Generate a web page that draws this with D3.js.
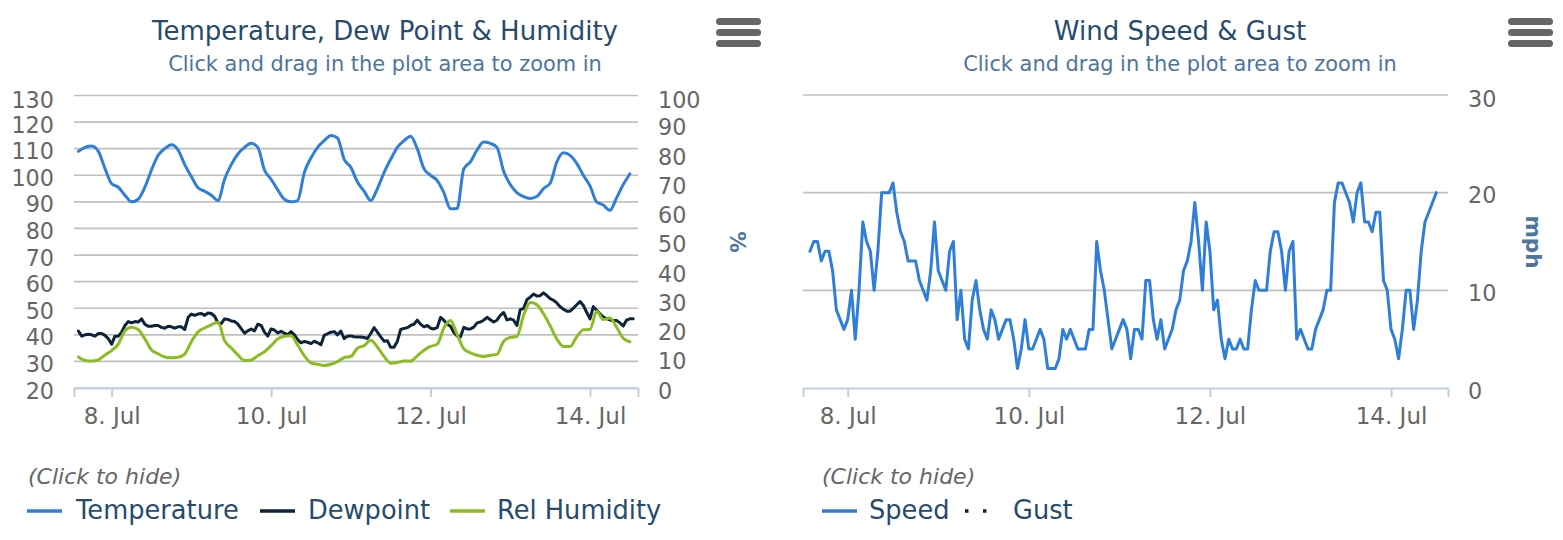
<!DOCTYPE html>
<html><head><meta charset="utf-8">
<script src="https://cdn.jsdelivr.net/npm/d3@7"></script>
<style>
html,body{margin:0;padding:0;background:#fff}
svg{display:block}
text{font-family:"DejaVu Sans",Verdana,sans-serif}
</style>
</head><body>
<svg id="chart" width="1563" height="540"></svg>
<script>
// ---------- DATA ----------
// first sample: 7 Jul 14:00; temperature & humidity every 2 h, dewpoint & wind every 1 h
const seriesStart = "2015-07-07T14:00:00Z";
const temperature = [109,110.5,111,109,102.5,96.8,95.5,92.5,90,91,95.5,102,107.5,110,111.5,109.5,104,99.5,95.3,94,92.5,90.5,98.5,104,108,110.5,112,110.5,102,98.5,94.5,91,90,90.5,101,106.5,110.5,113,115,114,106,103,97.5,94,90.5,95,101,106,110.5,113,114.7,110,102.5,100,98,93.5,87.4,87.5,102.4,105,109.5,112.5,112,110.5,101.5,96.5,93.5,92,91.3,92,95,97,105,108.5,107.5,104.5,100,96,90,88.8,86.8,91.5,96.5,100.5];
const dewpoint = [41.4,39.5,40,40.2,40,39.5,40.5,40.5,39.8,38.5,36.5,39.5,39.5,41,43.5,45,44.5,45,44.8,46,44,43.2,43.2,43.5,43.5,42.8,42.5,43.2,43,42.5,43,43,42,46.5,47.8,47.3,47.8,48,47.3,48.2,48,47,44.5,44.2,46,45.8,45.2,45,44,42.3,40.6,41.5,42.2,41.5,44,43.5,41,39.5,42.2,41.8,40.7,41.3,40.6,40,41.2,40,38.2,37,37.5,37.2,36.7,37.6,37,36.3,39.8,40.4,41,41.2,40,41.4,38.6,39.5,39.6,39.3,39.2,39.2,39,38.6,40.5,42.7,41,39.2,37.6,37.8,35.3,35.3,37.5,42,42.4,42.7,43.5,44,45.5,44,43,43.5,42.5,42.2,42.7,46.5,45.5,44,43.2,41,39.6,39.2,42.8,42.2,42.2,42.9,44.5,44.8,45.5,46.6,45.7,44.8,45.5,47.3,48.4,45.6,46,45.5,43.5,49.5,49.9,53.2,54.2,55.3,54.6,54.7,55.8,54.8,53.6,53,52,50.6,49.6,48.9,48.9,50,51.3,52.5,51,48.5,46,50.6,49.2,47.9,46.7,46.1,45.6,45.4,45.4,44.5,43.3,45.5,46,46];
const humidity = [10.6,9.4,9.2,9.6,11.3,12.8,15,19.6,20.8,20,16.8,13,11.7,10.6,10.3,10.5,11.6,15.8,19.2,20.5,21.6,22.5,16.2,13.7,11.3,9.4,9.6,11,12.4,14.5,16.8,17.7,17.9,14.7,11,8.6,8.1,7.7,8.1,9,10.4,10.8,13.6,14.5,16.3,14,10.8,8.5,8.7,9.2,9.2,11,12.9,14.2,15,20.5,23.1,18.3,13.4,12,11.2,10.8,11.2,11.5,16,17.3,17.6,24.8,29.2,28.5,25.4,21.3,16.8,14.2,14.2,17.5,19.9,20,26.2,23.4,23.9,20.8,17,15.8];
const windSpeed = [14,15,15,13,14,14,12,8,7,6,7,10,5,10,17,15,14,10,14,20,20,20,21,18,16,15,13,13,13,11,10,9,12,17,12,11,10,14,15,7,10,5,4,9,11,8,6,5,8,7,5,6,7,7,5,2,4,7,4,4,5,6,5,2,2,2,3,6,5,6,5,4,4,4,6,6,15,12,10,7,4,5,6,7,6,3,6,6,5,11,11,7,5,7,4,5,6,8,9,12,13,15,19,15,10,17,14,8,9,5,3,5,4,4,5,4,4,8,11,10,10,10,14,16,16,14,10,14,15,5,6,5,4,4,6,7,8,10,10,19,21,21,20,19,17,20,21,17,17,16,18,18,11,10,6,5,3,6,10,10,6,9,14,17,18,19,20];

const tempTicks = [20,30,40,50,60,70,80,90,100,110,120,130];
const humidityTicks = [0,10,20,30,40,50,60,70,80,90,100];
const windTicks = [0,10,20,30];
const dateTicks = ["2015-07-08","2015-07-10","2015-07-12","2015-07-14"];
const leftDomain = ["2015-07-07T12:40:00Z","2015-07-14T14:27:00Z"];
const rightDomain = ["2015-07-07T12:09:00Z","2015-07-14T15:06:00Z"];

const leftTitle = "Temperature, Dew Point & Humidity";
const rightTitle = "Wind Speed & Gust";
const subtitle = "Click and drag in the plot area to zoom in";
const leftLegend = ["Temperature","Dewpoint","Rel Humidity"];
const rightLegend = ["Speed","Gust"];

// ---------- STYLE ----------
const C = {temp:"#2f7ed8", dew:"#0d233a", hum:"#8bbc21", speed:"#2f7ed8", gust:"#0d233a",
  title:"#274b6d", sub:"#4d759e", label:"#666666", grid:"#c0c0c0", axis:"#c0d0e0", menu:"#666666"};

const svg = d3.select("#chart");
svg.append("rect").attr("width",1563).attr("height",540).attr("fill","#fff");

const t0 = new Date(seriesStart).getTime();
const H = 3600e3;
const toPts = (arr, stepH) => arr.map((v,i)=>({t:new Date(t0+i*stepH*H), v}));
const fmt = d3.utcFormat("%-d. %b");
const dTicks = dateTicks.map(d=>new Date(d+"T00:00:00Z"));

function menu(x){
  const g = svg.append("g");
  [0,11,22].forEach(dy=>g.append("rect").attr("x",x).attr("y",18+dy).attr("width",45).attr("height",7)
    .attr("rx",3.5).attr("fill",C.menu));
}
function titles(cx, title){
  svg.append("text").attr("x",cx).attr("y",40).attr("text-anchor","middle")
    .attr("font-size",26).attr("fill",C.title).text(title);
  svg.append("text").attr("x",cx).attr("y",71).attr("text-anchor","middle")
    .attr("font-size",20.9).attr("fill",C.sub).text(subtitle);
}
function xAxis(x, y0){
  const g = svg.append("g").attr("transform",`translate(0,${y0})`);
  g.call(d3.axisBottom(x).tickValues(dTicks).tickFormat(fmt).tickSize(9).tickPadding(11));
  g.select(".domain").attr("stroke",C.axis).attr("stroke-width",2);
  g.selectAll(".tick line").attr("stroke",C.axis).attr("stroke-width",2);
  g.selectAll(".tick text").attr("font-size",23).attr("fill",C.label)
    .attr("font-family","DejaVu Sans");
}
function grid(y, ticks, x0, x1){
  svg.append("g").selectAll("line").data(ticks).join("line")
    .attr("x1",x0).attr("x2",x1).attr("y1",d=>y(d)).attr("y2",d=>y(d))
    .attr("stroke",C.grid).attr("stroke-width",1.7);
}
function yLabels(y, ticks, x, anchor){
  const mx = d3.max(ticks);
  svg.append("g").selectAll("text").data(ticks).join("text")
    .attr("x",x).attr("y",d=>y(d)+(d===mx?12:10.5)).attr("text-anchor",anchor)
    .attr("font-size",22.3).attr("fill",C.label).text(d=>d);
}
function axisTitle(x, y, txt){
  svg.append("text").attr("transform",`translate(${x},${y}) rotate(90)`)
    .attr("text-anchor","middle").attr("dominant-baseline","central")
    .attr("font-size",21.5).attr("font-weight","bold").attr("fill",C.sub).text(txt);
}
function drawLine(pts, x, y, color, curve){
  svg.append("path").datum(pts)
    .attr("d", d3.line().x(d=>x(d.t)).y(d=>y(d.v)).curve(curve||d3.curveLinear))
    .attr("fill","none").attr("stroke",color).attr("stroke-width",3)
    .attr("stroke-linejoin","round").attr("stroke-linecap","round");
}
function legendHeader(x){
  svg.append("text").attr("x",x).attr("y",484).attr("font-size",22).attr("font-style","italic")
    .attr("fill",C.label).text("(Click to hide)");
}
function legendItem(sx, tx, color, label, dotted){
  const l = svg.append("line").attr("x1",sx).attr("x2",sx+35).attr("y1",511).attr("y2",511)
    .attr("stroke",color).attr("stroke-width",3.5);
  if(dotted) l.attr("x1",sx+2).attr("x2",sx+24).attr("stroke-dasharray","3.5 14.5");
  svg.append("text").attr("x",tx).attr("y",519).attr("font-size",25.7).attr("fill",C.title).text(label);
}

// ---------- LEFT CHART ----------
const PT = 95.5, PB = 388;
const xL = d3.scaleUtc().domain(leftDomain.map(d=>new Date(d))).range([74,638]);
const yT = d3.scaleLinear().domain([20,130]).range([PB,PT]);
const yH = d3.scaleLinear().domain([0,100]).range([PB,PT]);
titles(385, leftTitle);
menu(716);
grid(yT, tempTicks, 74, 638);
xAxis(xL, PB);
yLabels(yT, tempTicks, 54, "end");
yLabels(yH, humidityTicks, 658, "start");
axisTitle(737, 242, "%");
drawLine(toPts(temperature,2), xL, yT, C.temp, d3.curveMonotoneX);
drawLine(toPts(dewpoint,1), xL, yT, C.dew);
drawLine(toPts(humidity,2), xL, yH, C.hum, d3.curveMonotoneX);
legendHeader(28);
legendItem(27, 76, C.temp, leftLegend[0]);
legendItem(260, 308, C.dew, leftLegend[1]);
legendItem(450, 497, C.hum, leftLegend[2]);

// ---------- RIGHT CHART ----------
const xR = d3.scaleUtc().domain(rightDomain.map(d=>new Date(d))).range([803,1448]);
const yW = d3.scaleLinear().domain([0,30]).range([PB,95]);
titles(1180, rightTitle);
menu(1508);
grid(yW, windTicks.filter(d=>d>0), 803, 1448);
xAxis(xR, PB);
yLabels(yW, windTicks, 1468, "start");
axisTitle(1533, 242, "mph");
drawLine(toPts(windSpeed,1), xR, yW, C.speed);
legendHeader(822);
legendItem(822, 869, C.speed, rightLegend[0]);
legendItem(963, 1013, C.gust, rightLegend[1], true);
</script>
</body></html>
